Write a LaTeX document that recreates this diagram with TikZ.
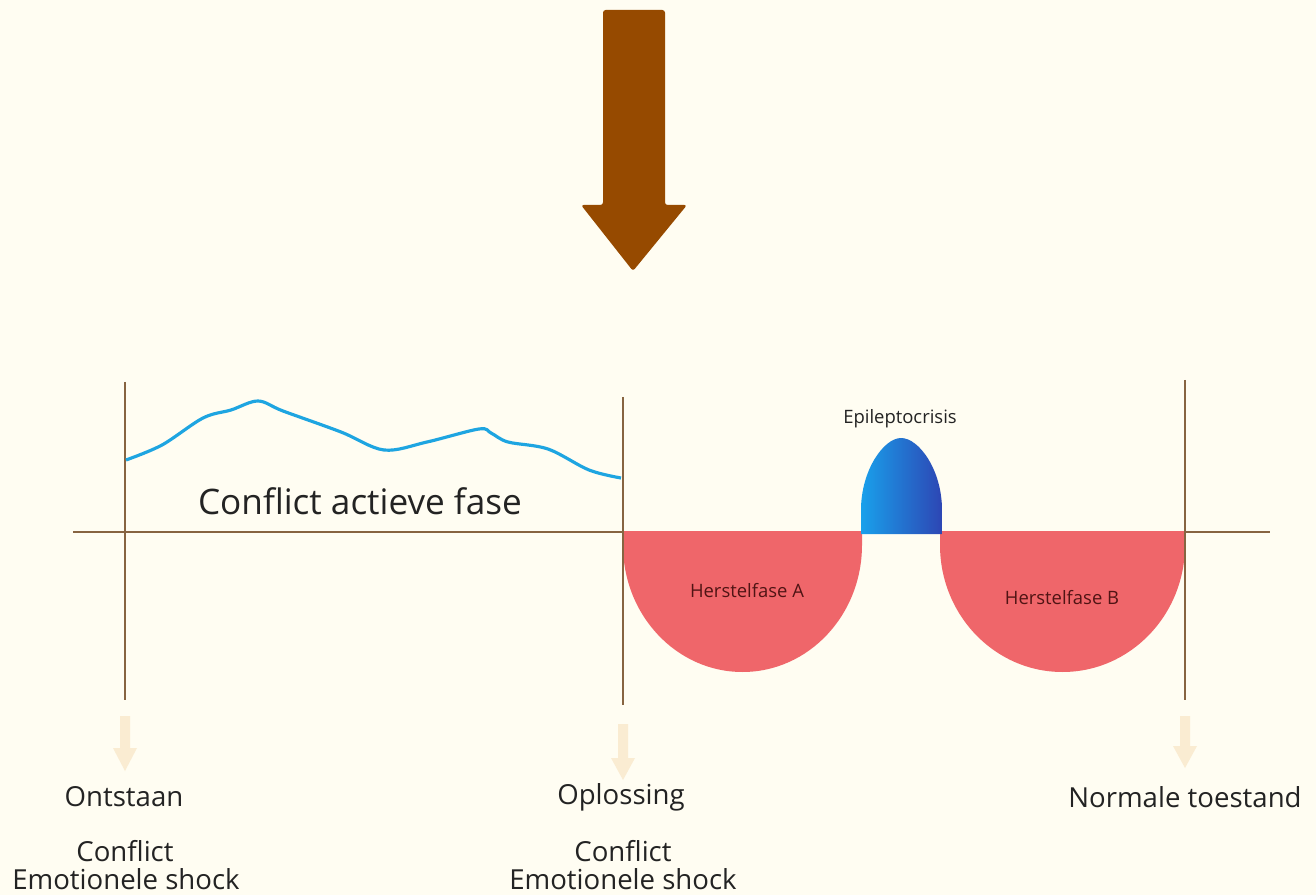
\documentclass[tikz,border=0pt]{standalone}
\usepackage{fontspec}
\setmainfont{Open Sans}
\usetikzlibrary{shadings}
\definecolor{bg}{RGB}{255,253,242}
\definecolor{bigbrown}{RGB}{150,74,0}
\definecolor{axis}{RGB}{135,100,65}
\definecolor{curve}{RGB}{30,165,225}
\definecolor{herst}{RGB}{239,102,106}
\definecolor{herstTxt}{RGB}{80,20,20}
\definecolor{paleArrow}{RGB}{250,236,210}
\definecolor{blueL}{RGB}{25,160,235}
\definecolor{blueR}{RGB}{45,70,180}
\definecolor{txt}{RGB}{35,35,35}
\tikzset{
  axisline/.style={draw=axis, line width=1.1pt},
  phase/.style={fill=herst, draw=none},
  labelbig/.style={font=\fontsize{20}{24}\selectfont, text=txt, inner sep=0pt},
  labelmid/.style={font=\fontsize{15.7}{18}\selectfont, text=txt, inner sep=0pt},
  labelsmall/.style={font=\fontsize{10.5}{12}\selectfont, inner sep=0pt},
  palearrow/.style={fill=paleArrow, draw=none},
}
\begin{document}
\begin{tikzpicture}[x=0.02cm, y=-0.02cm]
\useasboundingbox[fill=bg] (0,0) rectangle (1316,895);

% big arrow
\fill[bigbrown, rounded corners=1.5] (603,10) -- (665,10) -- (665,205) -- (687,205) -- (633,271) -- (581,205) -- (603,205) -- cycle;

% coordinates for axis
\coordinate (hl) at (73,532);
\coordinate (hr) at (1270,532);
\coordinate (v1t) at (125,382); \coordinate (v1b) at (125,700);
\coordinate (v2t) at (623,397); \coordinate (v2b) at (623,705);
\coordinate (v3t) at (1185,380); \coordinate (v3b) at (1185,700);

% horizontal axis (under the shapes)
\draw[axisline] (hl) -- (hr);

% red phases
\fill[phase] (623,531) -- (862,531) -- (862,545) arc[start angle=0, end angle=180, x radius=119.5, y radius=127] -- cycle;
\fill[phase] (940,531) -- (1185,531) -- (1185,545) arc[start angle=0, end angle=180, x radius=122.5, y radius=127] -- cycle;

% epileptocrisis blob
\shade[left color=blueL, right color=blueR] (861,534) -- (861,510) .. controls (861,470) and (884,438) .. (901,438) .. controls (919,438) and (942,470) .. (942,510) -- (942,534) -- cycle;

% vertical lines
\draw[axisline] (v1t) -- (v1b);
\draw[axisline] (v2t) -- (v2b);
\draw[axisline] (v3t) -- (v3b);

% blue curve
\draw[curve, line width=1.8pt, line join=round] plot[smooth, tension=0.55] coordinates {
(126,460) (162,445) (203,418) (231,410) (258,401) (283,411) (341,432) (384,450) (427,442) (479,429) (491,433) (508,442) (548,449) (589,470) (621,478)};

% labels
\node[labelbig] (caf) at (360,501) {Conflict actieve fase};
\node[labelsmall, text=herstTxt] (ha) at (747,591) {Herstelfase A};
\node[labelsmall, text=herstTxt] (hb) at (1062,598) {Herstelfase B};
\node[labelsmall, text=txt] (ep) at (900,419) {Epileptocrisis};

% pale arrows
\fill[palearrow] (120,716) -- (130,716) -- (130,748) -- (137,748) -- (125,771) -- (113,748) -- (120,748) -- cycle;
\fill[palearrow] (618,724) -- (628,724) -- (628,758) -- (635,758) -- (623,780) -- (611,758) -- (618,758) -- cycle;
\fill[palearrow] (1180,716) -- (1190,716) -- (1190,746) -- (1197,746) -- (1185,768) -- (1173,746) -- (1180,746) -- cycle;

% bottom labels
\node[labelmid] (ont) at (124,797) {Ontstaan};
\node[labelmid] (c1) at (125,851) {Conflict};
\node[labelmid] (e1) at (126,879) {Emotionele shock};
\node[labelmid] (opl) at (621,797) {Oplossing};
\node[labelmid] (c2) at (623,851) {Conflict};
\node[labelmid] (e2) at (623,879) {Emotionele shock};
\node[labelmid] (nt) at (1185,797) {Normale toestand};
\end{tikzpicture}
\end{document}
